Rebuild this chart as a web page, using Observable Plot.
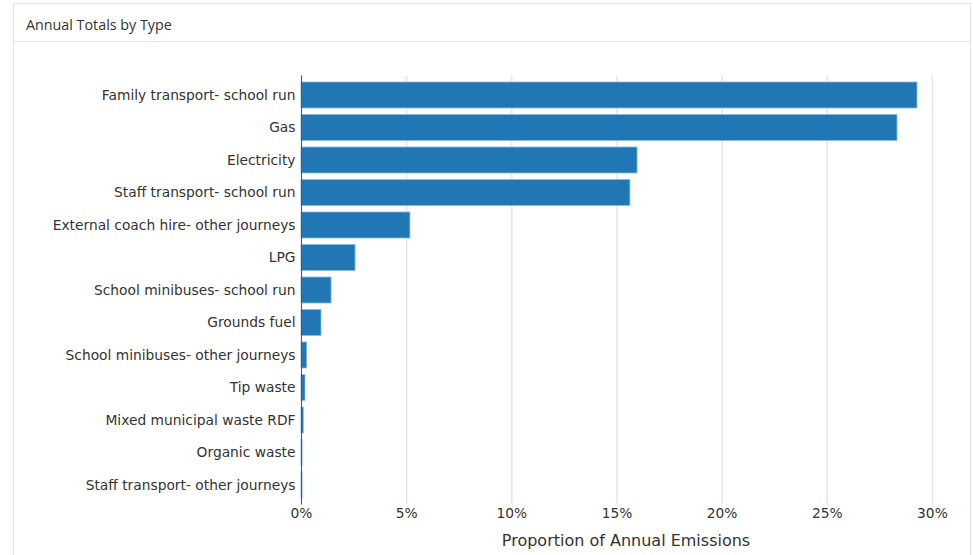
<!DOCTYPE html>
<html>
<head>
<meta charset="utf-8">
<script src="https://cdn.jsdelivr.net/npm/d3@7"></script>
<script src="https://cdn.jsdelivr.net/npm/@observablehq/plot@0.6"></script>
<style>
  html, body { margin: 0; padding: 0; background: #fff; }
  #panel {
    position: absolute; left: 13px; top: 3px; width: 958px; height: 560px;
    border-left: 1px solid #e3e3e3; border-top: 1px solid #e3e3e3; border-right: 1px solid #e3e3e3;
    box-sizing: border-box;
  }
  #header {
    height: 38px; box-sizing: border-box; border-bottom: 1px solid #e8e8e8;
    font-family: "Open Sans", sans-serif; font-size: 14.3px; color: #333;
    padding-left: 12px; line-height: 42px; overflow: hidden;
  }
  #chart svg { display: block; }
</style>
</head>
<body>
<div id="panel">
  <div id="header">Annual Totals by Type</div>
  <div id="chart"></div>
</div>
<script>
const categories = [
  "Family transport- school run",
  "Gas",
  "Electricity",
  "Staff transport- school run",
  "External coach hire- other journeys",
  "LPG",
  "School minibuses- school run",
  "Grounds fuel",
  "School minibuses- other journeys",
  "Tip waste",
  "Mixed municipal waste RDF",
  "Organic waste",
  "Staff transport- other journeys"
];
const shares = [0.2929, 0.2834, 0.1598, 0.1564, 0.0518, 0.0257, 0.0143, 0.0095, 0.0027, 0.0019, 0.0011, 0.0005, 0.0005];
const xTicks = [0, 0.05, 0.10, 0.15, 0.20, 0.25, 0.30];

const data = categories.map((c, i) => ({category: c, share: shares[i]}));

const chart = Plot.plot({
  width: 956,
  height: 513,
  marginLeft: 287,
  marginRight: 20,
  marginTop: 33.5,
  marginBottom: 50.5,
  style: {fontFamily: "DejaVu Sans, sans-serif", fontSize: "13.8px", color: "#333", background: "#fff"},
  x: {domain: [0, 0.3086], ticks: xTicks},
  y: {domain: categories, padding: 0.2, round: false},
  marks: [
    Plot.gridX(xTicks, {stroke: "#e4e4e4", strokeOpacity: 1, strokeWidth: 1.5}),
    Plot.barX(data, {x: "share", y: "category", fill: "#2077b4", stroke: "#8dbbe0", strokeWidth: 0.8}),
    Plot.ruleX([0], {stroke: "#555", strokeWidth: 1}),
    Plot.axisY({tickSize: 0, tickPadding: 6, label: null, fontSize: 13.8}),
    Plot.axisX({
      ticks: xTicks, tickSize: 0, tickPadding: 3, tickFormat: d3.format(".0%"),
      label: "Proportion of Annual Emissions", labelAnchor: "center", labelArrow: "none",
      labelOffset: 41, fontSize: 13.8
    })
  ]
});
chart.querySelectorAll("[aria-label='x-axis label'] text").forEach(t => t.setAttribute("font-size", "16"));
document.getElementById("chart").appendChild(chart);
</script>
</body>
</html>
